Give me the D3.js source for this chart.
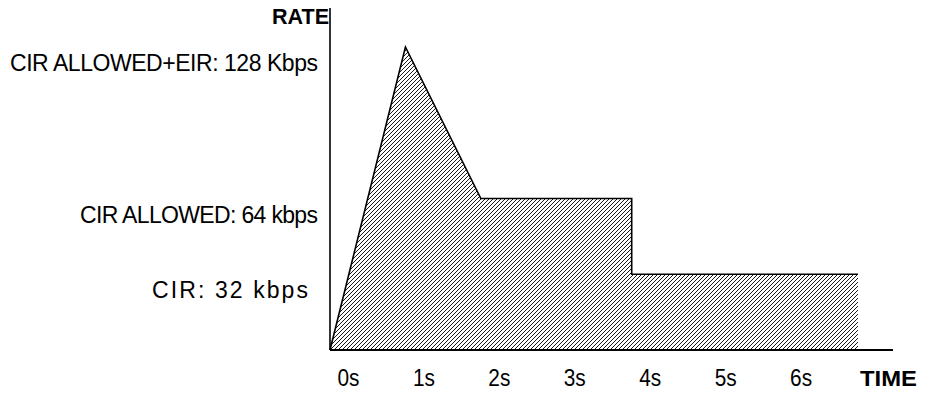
<!DOCTYPE html>
<html>
<head>
<meta charset="utf-8">
<script src="https://cdn.jsdelivr.net/npm/d3@7"></script>
<style>
  body { margin: 0; background: #fff; }
  text { font-family: "Liberation Sans", Arial, sans-serif; fill: #000; }
</style>
</head>
<body>
<div id="chart"></div>
<script>
// rate profile (seconds / kbps)
var times = [0, 1, 2, 4, 4, 7];
var rates = [0, 128, 64, 64, 32, 32];

var levelValues = [128, 64, 32];
var levelLabels = ["CIR ALLOWED+EIR: 128 Kbps", "CIR ALLOWED: 64 kbps", "CIR: 32 kbps"];
var levelWidths = [308, 238, 156];

var tickValues = [0, 1, 2, 3, 4, 5, 6];
var tickLabels = ["0s", "1s", "2s", "3s", "4s", "5s", "6s"];

(function(){
  var width = 930,
      height = 394;

  var svg = d3.select("#chart")
    .append("svg")
    .attr("width", width)
    .attr("height", height);

  var x = d3.scaleLinear().domain([0, 7]).range([330, 858]);
  var y = d3.scaleLinear().domain([0, 128]).range([350, 47]);

  // hatch pattern
  var pat = svg.append("defs").append("pattern")
    .attr("id", "hatch")
    .attr("patternUnits", "userSpaceOnUse")
    .attr("width", 4)
    .attr("height", 4);
  pat.append("path")
    .attr("d", "M-1,1 l2,-2 M0,4 l4,-4 M3,5 l2,-2")
    .attr("stroke", "#000")
    .attr("stroke-width", 0.9);

  var pts = times.map(function(t, i){ return [t, rates[i]]; });

  var area = d3.area()
    .x(function(d){ return x(d[0]); })
    .y0(y(0))
    .y1(function(d){ return y(d[1]); });

  var line = d3.line()
    .x(function(d){ return x(d[0]); })
    .y(function(d){ return y(d[1]); });

  svg.append("path")
    .datum(pts)
    .attr("d", area)
    .attr("fill", "url(#hatch)");

  svg.append("path")
    .datum(pts)
    .attr("d", line)
    .attr("fill", "none")
    .attr("stroke", "#000")
    .attr("stroke-width", 1.6);

  // axes
  svg.append("line")
    .attr("x1", x(0)).attr("x2", x(0))
    .attr("y1", 8).attr("y2", y(0))
    .attr("stroke", "#000")
    .attr("stroke-width", 1.6);

  svg.append("line")
    .attr("x1", x(0)).attr("x2", x(7) + 35)
    .attr("y1", y(0)).attr("y2", y(0))
    .attr("stroke", "#000")
    .attr("stroke-width", 2);

  var xAxis = d3.axisBottom(x)
    .tickValues(tickValues)
    .tickSize(0)
    .tickPadding(20)
    .tickFormat(function(d, i){ return tickLabels[i]; });

  var gx = svg.append("g")
    .attr("transform", "translate(0," + y(0) + ")")
    .call(xAxis);
  gx.select(".domain").remove();
  gx.selectAll("text")
    .attr("dx", 18)
    .attr("textLength", 22)
    .attr("lengthAdjust", "spacingAndGlyphs")
    .style("font-size", "23px")
    .style("font-family", "'Liberation Sans', Arial, sans-serif");

  svg.append("text")
    .attr("x", 860)
    .attr("y", 386)
    .attr("textLength", 57)
    .attr("lengthAdjust", "spacingAndGlyphs")
    .style("font-size", "22px")
    .style("font-weight", "bold")
    .text("TIME");

  svg.append("text")
    .attr("x", 272)
    .attr("y", 24)
    .attr("textLength", 57)
    .attr("lengthAdjust", "spacingAndGlyphs")
    .style("font-size", "22px")
    .style("font-weight", "bold")
    .text("RATE");

  // level labels
  svg.selectAll(".level")
    .data(levelValues)
    .enter().append("text")
    .attr("class", "level")
    .attr("x", function(d, i){ return (i === 2 ? 308 : 318) - levelWidths[i]; })
    .attr("y", function(d){ return y(d) + 24; })
    .attr("textLength", function(d, i){ return levelWidths[i]; })
    .attr("lengthAdjust", "spacing")
    .style("font-size", "23px")
    .text(function(d, i){ return levelLabels[i]; });
})();
</script>
</body>
</html>
